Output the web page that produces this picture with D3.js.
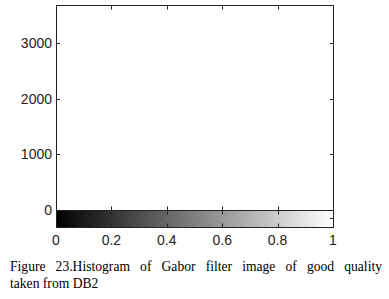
<!DOCTYPE html>
<html><head><meta charset="utf-8">
<script src="https://cdn.jsdelivr.net/npm/d3@7"></script>
<style>body{margin:0;background:#fff}svg{display:block}</style>
</head><body>
<script>
// Data
const binCenters = [0];          // only non-empty bin (at intensity 0, hidden under the axis)
const binCounts = [3680];
const xTicks = [0, 0.2, 0.4, 0.6, 0.8, 1];
const xTickLabels = ["0", "0.2", "0.4", "0.6", "0.8", "1"];
const yTicks = [0, 1000, 2000, 3000];
const yTickLabels = ["0", "1000", "2000", "3000"];
const captionLine1 = "Figure 23.Histogram of Gabor filter image of good quality";
const captionLine2 = "taken from DB2";

const W = 389, H = 299;
const L = 56, R = 333, T = 5, B = 210, CB = 227;
const svg = d3.select("body").append("svg").attr("width", W).attr("height", H);

const x = d3.scaleLinear().domain([0, 1]).range([L, R]);
const y = d3.scaleLinear().domain([0, 3680]).range([B, T]);

// histogram stems
svg.selectAll("line.stem").data(binCenters).enter().append("line")
  .attr("x1", d => x(d) + 0.5).attr("x2", d => x(d) + 0.5)
  .attr("y1", B).attr("y2", (d, i) => y(binCounts[i]))
  .attr("stroke", "#1a1a1a");

// colorbar gradient
const defs = svg.append("defs");
const g = defs.append("linearGradient").attr("id", "gray").attr("x1", "0").attr("x2", "1");
g.append("stop").attr("offset", "0").attr("stop-color", "#000");
g.append("stop").attr("offset", "1").attr("stop-color", "#fff");
svg.append("rect").attr("x", x(0)).attr("y", B).attr("width", x(1) - x(0)).attr("height", CB - B)
  .attr("fill", "url(#gray)");

const stroke = "#222";
// main axes box
svg.append("rect").attr("x", L + 0.5).attr("y", T + 0.5).attr("width", R - L).attr("height", B - T)
  .attr("fill", "none").attr("stroke", stroke);
// colorbar box
svg.append("rect").attr("x", L + 0.5).attr("y", B + 0.5).attr("width", R - L).attr("height", CB - B)
  .attr("fill", "none").attr("stroke", stroke);

// x ticks (inner, top of main axes, bottom of main axes, colorbar edges)
const inner = xTicks.slice(1, -1);
const tk = 4;
inner.forEach(v => {
  const xx = Math.round(x(v)) + 0.5;
  [[T, T + tk], [B - tk, B + tk], [CB - tk, CB]].forEach(([a, b]) => {
    svg.append("line").attr("x1", xx).attr("x2", xx).attr("y1", a + 0.5).attr("y2", b + 0.5).attr("stroke", stroke);
  });
});
// y ticks
yTicks.slice(1).forEach(v => {
  const yy = Math.round(y(v)) + 0.5;
  svg.append("line").attr("x1", L).attr("x2", L + tk).attr("y1", yy).attr("y2", yy).attr("stroke", stroke);
  svg.append("line").attr("x1", R - tk + 1).attr("x2", R + 1).attr("y1", yy).attr("y2", yy).attr("stroke", stroke);
});
// colorbar right tick
svg.append("line").attr("x1", R - tk + 1).attr("x2", R + 1).attr("y1", 218.5).attr("y2", 218.5).attr("stroke", stroke);

// tick labels
const font = "Liberation Sans, Arial, sans-serif";
svg.selectAll("text.yl").data(yTicks).enter().append("text")
  .attr("x", 52).attr("y", d => y(d) + 5).attr("text-anchor", "end")
  .attr("font-family", font).attr("font-size", 14).attr("fill", "#222")
  .text((d, i) => yTickLabels[i]);
svg.selectAll("text.xl").data(xTicks).enter().append("text")
  .attr("x", d => x(d)).attr("y", 245).attr("text-anchor", "middle")
  .attr("font-family", font).attr("font-size", 14).attr("fill", "#222")
  .text((d, i) => xTickLabels[i]);

// caption (justified first line)
const cf = "Liberation Serif, Times New Roman, serif";
const cs = 13.6;
const words = captionLine1.split(" ");
const tmp = words.map(w => svg.append("text").attr("font-family", cf).attr("font-size", cs).attr("fill", "#000").attr("y", 271).text(w));
const widths = tmp.map(t => t.node().getComputedTextLength());
const total = d3.sum(widths);
const x0 = 10, x1 = 382;
const gap = (x1 - x0 - total) / (words.length - 1);
let cx = x0;
tmp.forEach((t, i) => { t.attr("x", cx); cx += widths[i] + gap; });
svg.append("text").attr("x", x0).attr("y", 288).attr("font-family", cf).attr("font-size", cs).attr("fill", "#000")
  .text(captionLine2);
</script>
</body></html>
